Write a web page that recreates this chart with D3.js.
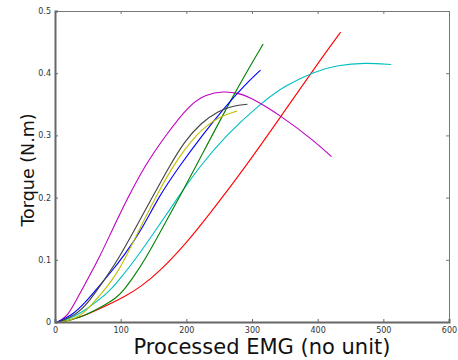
<!DOCTYPE html>
<html>
<head>
<meta charset="utf-8">
<script src="https://cdn.jsdelivr.net/npm/d3@7"></script>
<style>
  body { margin: 0; background: #fff; }
  svg { display: block; }
  .tick text { font-family: "DejaVu Sans", sans-serif; font-size: 8px; fill: #333; }
</style>
</head>
<body>
<svg id="chart" width="458" height="360"></svg>
<script>
// tick values
const xTicks = [0, 100, 200, 300, 400, 500, 600];
const yTicks = [0, 0.1, 0.2, 0.3, 0.4, 0.5];

// curves: [emg, torque]
const redCurve = [[5,0],[25,0.003],[51,0.013],[80,0.027],[105,0.04],[130,0.056],[160,0.082],[198,0.124],[240,0.18],[289,0.248],[345,0.332],[403,0.42],[435,0.466]];
const cyanCurve = [[3,0],[20,0.004],[40,0.015],[60,0.03],[84,0.05],[103,0.075],[122,0.1],[155,0.15],[187,0.2],[218,0.247],[260,0.3],[315,0.353],[350,0.38],[396,0.403],[430,0.413],[472,0.417],[512,0.414]];
const magentaCurve = [[3,0],[10,0.003],[20,0.012],[30,0.03],[45,0.06],[66,0.1],[88,0.15],[111,0.2],[136,0.25],[167,0.298],[205,0.35],[230,0.366],[256,0.371],[280,0.368],[300,0.36],[345,0.331],[396,0.29],[421,0.266]];
const greenCurve = [[5,0],[20,0.002],[40,0.008],[60,0.018],[80,0.03],[92,0.038],[104,0.05],[118,0.07],[137,0.1],[163,0.15],[189,0.2],[213,0.247],[274,0.37],[317,0.447]];
const blueCurve = [[3,0],[25,0.01],[45,0.03],[65,0.055],[85,0.08],[104,0.105],[133,0.15],[157,0.2],[189,0.25],[224,0.3],[259,0.346],[288,0.38],[313,0.405]];
const blackCurve = [[5,0],[30,0.01],[50,0.03],[70,0.06],[96,0.1],[122,0.15],[148,0.2],[174,0.25],[197,0.29],[222,0.32],[250,0.34],[272,0.348],[293,0.35]];
const yellowCurve = [[10,0],[30,0.005],[45,0.015],[62,0.035],[78,0.055],[92,0.075],[106,0.1],[129,0.15],[153,0.2],[178,0.248],[198,0.278],[215,0.3],[228,0.313],[250,0.33],[277,0.339]];

const series = [
  { pts: redCurve, color: "#ff0000" },
  { pts: cyanCurve, color: "#00bfbf" },
  { pts: magentaCurve, color: "#bf00bf" },
  { pts: greenCurve, color: "#008000" },
  { pts: blueCurve, color: "#0000ff" },
  { pts: blackCurve, color: "#404040" },
  { pts: yellowCurve, color: "#bfbf00" },
];

const margin = { top: 11, right: 9, bottom: 38, left: 55 };
const width = 458 - margin.left - margin.right;
const height = 360 - margin.top - margin.bottom;

const svg = d3.select("#chart");
const g = svg.append("g").attr("transform", "translate(" + margin.left + "," + margin.top + ")");

const x = d3.scaleLinear().domain([0, 600]).range([0, width]);
const y = d3.scaleLinear().domain([0, 0.5]).range([height, 0]);

// box: top and right
g.append("g")
  .call(d3.axisTop(x).tickValues(xTicks).tickSize(-3).tickFormat(""))
  .call(a => a.selectAll("path,line").attr("stroke", "#777"));
g.append("g")
  .attr("transform", "translate(" + width + ",0)")
  .call(d3.axisRight(y).tickValues(yTicks).tickSize(-3).tickFormat(""))
  .call(a => a.selectAll("path,line").attr("stroke", "#777"));

// the curves
const line = d3.line()
  .x(d => x(d[0]))
  .y(d => y(d[1]))
  .curve(d3.curveBasis);

g.selectAll(".curve")
  .data(series)
  .enter()
  .append("path")
  .attr("class", "curve")
  .attr("d", d => line(d.pts))
  .attr("fill", "none")
  .attr("stroke", d => d.color)
  .attr("stroke-width", 1.1);

// bottom and left axes
g.append("g")
  .attr("transform", "translate(0," + height + ")")
  .call(d3.axisBottom(x).tickValues(xTicks).tickSize(-3).tickPadding(5).tickFormat(d3.format("d")))
  .call(a => a.select(".domain").attr("stroke", "#666").attr("stroke-width", 2))
  .call(a => a.selectAll(".tick line").attr("stroke", "#666"));

g.append("g")
  .call(d3.axisLeft(y).tickValues(yTicks).tickSize(-3).tickPadding(4).tickFormat(d => d === 0 ? "0" : d3.format(".1f")(d)))
  .call(a => a.select(".domain").attr("stroke", "#666").attr("stroke-width", 2))
  .call(a => a.selectAll(".tick line").attr("stroke", "#666"));

// axis titles
svg.append("text")
  .attr("x", 262)
  .attr("y", 354)
  .attr("text-anchor", "middle")
  .style("font-family", "DejaVu Sans, sans-serif")
  .style("font-size", "21px")
  .attr("fill", "#111")
  .text("Processed EMG (no unit)");

svg.append("text")
  .attr("transform", "translate(34,170)rotate(-90)")
  .attr("text-anchor", "middle")
  .style("font-family", "DejaVu Sans, sans-serif")
  .style("font-size", "17.5px")
  .attr("fill", "#111")
  .text("Torque (N.m)");
</script>
</body>
</html>
